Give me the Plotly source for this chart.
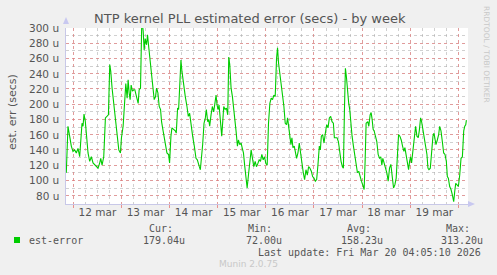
import plotly.graph_objects as go

# hours since 2026-03-12 00:00 and estimated error (micro-seconds), rows of 10
hours = [
    -3.5, -2.67, -1.83, -1, -0.17, 0.67, 1.5, 2.33, 3.17, 4.33,
    4.83, 5.33, 6, 6.5, 7.33, 8.17, 9, 9.83, 10.67, 11.5,
    12.33, 13.17, 13.67, 14.33, 15.17, 16, 16.83, 17.5, 18.17, 18.67,
    19.33, 20.17, 21, 21.83, 22.67, 23.5, 24, 24.83, 25.67, 26.17,
    26.83, 27.33, 27.83, 28.33, 28.83, 29.5, 30.17, 30.67, 31.5, 32.33,
    32.83, 33.5, 34.17, 34.83, 35.33, 35.83, 36.5, 37, 37.67, 38.33,
    39, 39.67, 40.33, 41, 41.5, 42.17, 42.83, 43.5, 44, 44.83,
    45.83, 46.67, 47.5, 48, 48.67, 49.17, 50, 50.83, 51.33, 52,
    52.5, 53, 53.67, 54.17, 55, 55.83, 56.67, 57.33, 58, 58.67,
    59.5, 60.33, 61.17, 61.83, 62.33, 62.83, 63.33, 63.83, 64.5, 65.17,
    65.83, 66.33, 67, 67.5, 68, 68.67, 69.33, 70, 70.5, 71.17,
    71.67, 72.17, 72.67, 73.33, 74, 74.5, 75, 75.67, 76.33, 77,
    77.5, 78, 78.67, 79.33, 80, 80.5, 81.17, 81.83, 82.33, 83,
    83.67, 84.17, 84.83, 85.5, 86.17, 86.67, 87.33, 88, 88.67, 89.33,
    90, 90.67, 91.33, 92, 92.67, 93.33, 94, 94.67, 95.33, 96,
    96.67, 97.33, 98, 98.67, 99.33, 100, 100.67, 101.33, 101.83, 102.33,
    103, 103.67, 104.33, 105, 105.67, 106.33, 106.83, 107.33, 108, 108.5,
    109, 109.5, 110.17, 110.83, 111.33, 112, 112.67, 113.33, 114, 114.67,
    115.33, 116, 116.67, 117.33, 118, 118.67, 119.33, 120, 120.67, 121.33,
    122, 122.67, 123.17, 123.67, 124.33, 125, 125.67, 126.33, 127, 127.67,
    128.33, 129, 129.67, 130.17, 130.83, 131.5, 132.17, 132.83, 133.5, 134.17,
    134.67, 135.17, 135.67, 136.17, 136.67, 137.33, 137.83, 138.33, 139, 139.67,
    140.33, 141, 141.67, 142.33, 143, 143.67, 144.33, 145, 145.5, 146,
    146.83, 147.33, 148, 148.5, 149, 149.5, 150, 150.67, 151.33, 152,
    152.67, 153.33, 153.83, 154.33, 155, 155.67, 156.33, 157, 157.67, 158.33,
    159, 159.67, 160.33, 161, 161.67, 162.17, 162.83, 163.5, 164.17, 164.83,
    165.33, 166, 166.67, 167.17, 167.67, 168.17, 168.67, 169.33, 170, 170.67,
    171.33, 172, 172.5, 173.17, 173.67, 174.33, 175, 175.67, 176.33, 176.83,
    177.33, 178, 178.67, 179.33, 179.83, 180.33, 180.83, 181.5, 182.17, 182.67,
    183.33, 184, 184.67, 185.33, 186, 186.5, 187, 187.67, 188.33, 189,
    189.67, 190.17, 190.67, 191.33, 192, 192.67, 193.33, 194, 194.67, 195.17,
    195.67, 196,
]
est_error = [
    110, 171, 158, 145, 138, 140, 136, 142, 131, 175,
    171, 187, 177, 158, 136, 125, 131, 123, 121, 118,
    116, 123, 129, 120, 131, 182, 184, 186, 252, 243,
    221, 199, 177, 158, 140, 136, 156, 171, 199, 227,
    208, 232, 215, 206, 225, 217, 219, 219, 210, 201,
    219, 221, 313, 296, 271, 286, 278, 291, 273, 256,
    243, 230, 206, 210, 221, 215, 197, 193, 177, 164,
    147, 136, 134, 123, 158, 169, 167, 165, 162, 195,
    193, 232, 258, 243, 225, 210, 197, 184, 188, 173,
    158, 145, 129, 127, 121, 118, 114, 125, 147, 175,
    182, 193, 177, 180, 171, 186, 197, 190, 199, 212,
    199, 193, 199, 177, 158, 177, 197, 193, 195, 186,
    262, 252, 221, 210, 195, 182, 164, 145, 153, 147,
    149, 143, 136, 118, 103, 90, 107, 125, 140, 129,
    118, 125, 118, 122, 127, 125, 134, 127, 131, 122,
    120, 175, 201, 208, 206, 212, 210, 260, 274, 254,
    240, 227, 217, 197, 175, 173, 182, 169, 158, 147,
    156, 143, 145, 136, 129, 136, 149, 136, 121, 110,
    101, 114, 107, 118, 116, 112, 105, 103, 99, 101,
    121, 145, 140, 158, 160, 149, 162, 173, 169, 182,
    184, 177, 175, 156, 156, 156, 151, 136, 125, 118,
    116, 190, 247, 236, 217, 201, 193, 175, 158, 145,
    131, 121, 110, 112, 103, 99, 94, 88, 125, 175,
    177, 171, 186, 189, 180, 167, 165, 158, 151, 134,
    129, 131, 120, 129, 123, 114, 110, 99, 116, 121,
    103, 90, 94, 103, 136, 160, 158, 153, 145, 138,
    143, 134, 125, 114, 125, 131, 123, 138, 153, 171,
    158, 156, 165, 182, 177, 165, 156, 143, 134, 116,
    114, 116, 138, 158, 162, 153, 147, 153, 160, 171,
    165, 151, 136, 134, 125, 105, 103, 92, 88, 81,
    72, 85, 96, 94, 92, 107, 129, 131, 165, 171,
    173, 179,
]

midnights = [0, 24, 48, 72, 96, 120, 144, 168, 192]
label_pos = [12, 36, 60, 84, 108, 132, 156, 180]
day_labels = ["12 mar", "13 mar", "14 mar", "15 mar", "16 mar", "17 mar", "18 mar", "19 mar"]
y_ticks = [80, 100, 120, 140, 160, 180, 200, 220, 240, 260, 280, 300]
y_labels = [f"{v} u" for v in y_ticks]

legend_name = "est-error"
stat_names = ["Cur:", "Min:", "Avg:", "Max:"]
stat_values = ["179.04u", "72.00u", "158.23u", "313.20u"]

W, H = 497, 275
L, R, T, B = 66, 29, 28, 71
PW, PH = W - L - R, H - T - B


def px(x):
    return (x - L) / PW


def py(y):
    return 1 - (y - T) / PH


XR = [-3.65, 196.8]
YR = [69, 300]

fig = go.Figure()
fig.add_trace(go.Scatter(x=hours, y=est_error, mode="lines", line=dict(color="#00CC00", width=1.1),
                         showlegend=False, hoverinfo="skip"))
# invisible trace carrying the day-label axis
fig.add_trace(go.Scatter(x=[XR[0]], y=[YR[0]], xaxis="x2", mode="markers", marker=dict(opacity=0),
                         showlegend=False, hoverinfo="skip"))

grey = "#555555"
major = "rgba(235,120,120,0.6)"
minor = "rgba(170,170,170,0.55)"
fig.update_layout(
    width=W, height=H,
    margin=dict(l=L, r=R, t=T, b=B),
    paper_bgcolor="#F0F0F0", plot_bgcolor="#FFFFFF",
    font=dict(family="DejaVu Sans", size=10.5, color=grey),
    xaxis=dict(range=XR, tickvals=midnights, ticktext=[""] * len(midnights), showgrid=True,
               gridcolor=major, griddash="dot", gridwidth=1,
               ticks="outside", ticklen=3, tickcolor="#E89090", zeroline=False,
               showline=True, linecolor="#C8C8E8", linewidth=1,
               minor=dict(dtick=6, tick0=0, showgrid=True, gridcolor=minor,
                          griddash="dot", gridwidth=1)),
    xaxis2=dict(range=XR, overlaying="x", side="bottom", tickvals=label_pos, ticktext=day_labels,
                showgrid=False, zeroline=False, ticks="", tickfont=dict(size=10.5, color=grey)),
    yaxis=dict(range=YR, tickvals=y_ticks, showticklabels=False, showgrid=True,
               gridcolor=major, griddash="dot", gridwidth=1, zeroline=False,
               ticks="", showline=True, linecolor="#C8C8E8", linewidth=1,
               minor=dict(dtick=10, tick0=0, showgrid=True, gridcolor=minor,
                          griddash="dot", gridwidth=1)),
    showlegend=False,
)

shapes = []
# axis arrows
shapes.append(dict(type="path", xref="paper", yref="paper",
                   path=f"M {px(63)} {py(24)} L {px(69)} {py(24)} L {px(66)} {py(17)} Z",
                   fillcolor="#C8C8F0", line=dict(width=0)))
shapes.append(dict(type="path", xref="paper", yref="paper",
                   path=f"M {px(468)} {py(201)} L {px(468)} {py(207)} L {px(475)} {py(204)} Z",
                   fillcolor="#C8C8F0", line=dict(width=0)))
# legend swatch
shapes.append(dict(type="rect", xref="paper", yref="paper", x0=px(14), x1=px(20), y0=py(243), y1=py(237),
                   fillcolor="#00CC00", line=dict(width=0)))
fig.update_layout(shapes=shapes)

ann = []
# y tick labels
for v, lab in zip(y_ticks, y_labels):
    ann.append(dict(text=lab, x=px(61), y=v, xref="paper", yref="y", showarrow=False,
                    xanchor="right", yanchor="middle",
                    font=dict(family="DejaVu Sans", size=10.5, color=grey)))
ann.append(dict(text="NTP kernel PLL estimated error (secs) - by week", x=px(250), y=py(18.5),
                xref="paper", yref="paper", showarrow=False, xanchor="center", yanchor="middle",
                font=dict(family="DejaVu Sans", size=13, color=grey)))
ann.append(dict(text="est. err (secs)", x=px(12), y=py(112), xref="paper", yref="paper",
                showarrow=False, textangle=-90, xanchor="center", yanchor="middle",
                font=dict(family="DejaVu Sans", size=11, color=grey)))
ann.append(dict(text="RRDTOOL / TOBI OETIKER", x=px(487), y=py(54), xref="paper", yref="paper",
                showarrow=False, textangle=90, xanchor="center", yanchor="middle",
                font=dict(family="DejaVu Sans", size=7.5, color="#C8C8C8")))
mono = dict(family="DejaVu Sans Mono", size=10, color=grey)
ann.append(dict(text=legend_name, x=px(27), y=py(240), xref="paper", yref="paper", showarrow=False,
                xanchor="left", yanchor="middle", font=mono))
name_x = [161, 260, 359, 458]
val_x = [164, 264, 362, 462]
for nx, vx, n, v in zip(name_x, val_x, stat_names, stat_values):
    ann.append(dict(text=n, x=px(nx), y=py(228), xref="paper", yref="paper", showarrow=False,
                    xanchor="center", yanchor="middle", font=mono))
    ann.append(dict(text=v, x=px(vx), y=py(240), xref="paper", yref="paper", showarrow=False,
                    xanchor="center", yanchor="middle", font=mono))
ann.append(dict(text="Last update: Fri Mar 20 04:05:10 2026", x=px(483), y=py(252), xref="paper", yref="paper",
                showarrow=False, xanchor="right", yanchor="middle", font=mono))
ann.append(dict(text="Munin 2.0.75", x=px(248), y=py(264), xref="paper", yref="paper", showarrow=False,
                xanchor="center", yanchor="middle",
                font=dict(family="DejaVu Sans", size=9, color="#C8C8C8")))
fig.update_layout(annotations=ann)

fig.write_html("out.html")
